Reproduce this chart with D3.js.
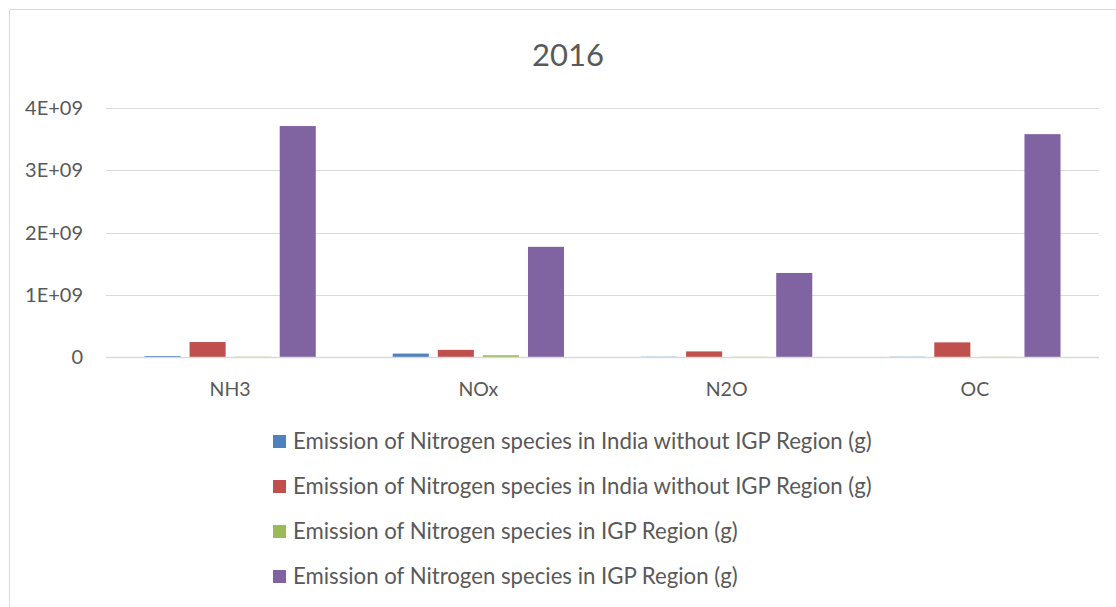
<!DOCTYPE html>
<html>
<head>
<meta charset="utf-8">
<script src="https://cdn.jsdelivr.net/npm/d3@7"></script>
<style>
  html, body { margin: 0; padding: 0; background: #fff; }
  svg { display: block; }
  text { font-family: Lato, "Open Sans", sans-serif; fill: #595959; }
</style>
</head>
<body>
<svg id="chart" width="1116" height="607"></svg>
<script>
// Emission data, 2016
const categories = ["NH3", "NOx", "N2O", "OC"];
const seriesNames = [
  "Emission of Nitrogen species in India without IGP Region (g)",
  "Emission of Nitrogen species in India without IGP Region (g)",
  "Emission of Nitrogen species in IGP Region (g)",
  "Emission of Nitrogen species in IGP Region (g)"
];
const seriesColors = ["#4f81bd", "#c0504d", "#9bbb59", "#8064a2"];
const seriesValues = [
  [0.015e9, 0.055e9, 0.004e9, 0.004e9],
  [0.24e9, 0.115e9, 0.09e9, 0.235e9],
  [0.004e9, 0.028e9, 0.003e9, 0.003e9],
  [3.71e9, 1.77e9, 1.35e9, 3.58e9]
];
const yTicks = [0, 1e9, 2e9, 3e9, 4e9];
const yTickLabels = ["0", "1E+09", "2E+09", "3E+09", "4E+09"];
const title = "2016";

const svg = d3.select("#chart");

// chart frame (left and top edges visible)
svg.append("path")
  .attr("d", "M9.5,607 V9.5 H1116")
  .attr("fill", "none")
  .attr("stroke", "#d9d9d9")
  .attr("stroke-width", 1);

const plot = { left: 106, right: 1099, top: 108, bottom: 357 };

const y = d3.scaleLinear().domain([0, 4e9]).range([plot.bottom, plot.top]);
const x0 = d3.scaleBand().domain(categories).range([plot.left, plot.right]);
const groupW = x0.bandwidth() * 0.69;
const x1 = d3.scaleBand().domain(d3.range(seriesNames.length))
  .range([0, groupW]).paddingInner(0.2).paddingOuter(0);

// gridlines
svg.append("g").selectAll("line")
  .data(yTicks.slice(1))
  .join("line")
  .attr("x1", plot.left).attr("x2", plot.right)
  .attr("y1", d => Math.round(y(d)) + 0.5)
  .attr("y2", d => Math.round(y(d)) + 0.5)
  .attr("stroke", "#d9d9d9").attr("stroke-width", 1);

// bars
const groups = svg.append("g").selectAll("g")
  .data(categories)
  .join("g")
  .attr("transform", (c) => `translate(${x0(c) + (x0.bandwidth() - groupW) / 2},0)`);

groups.selectAll("rect")
  .data((c, ci) => seriesValues.map((vals, si) => ({ si, v: vals[ci] })))
  .join("rect")
  .attr("x", d => x1(d.si))
  .attr("width", x1.bandwidth())
  .attr("y", d => y(d.v))
  .attr("height", d => y(0) - y(d.v))
  .attr("fill", d => seriesColors[d.si]);

// baseline axis
svg.append("line")
  .attr("x1", plot.left).attr("x2", plot.right)
  .attr("y1", Math.round(y(0)) + 0.5).attr("y2", Math.round(y(0)) + 0.5)
  .attr("stroke", "#d9d9d9").attr("stroke-width", 1.5);

// y tick labels
svg.append("g").selectAll("text")
  .data(yTicks)
  .join("text")
  .attr("x", 83)
  .attr("y", d => y(d))
  .attr("dy", "0.35em")
  .attr("text-anchor", "end")
  .attr("font-size", 20)
  .text((d, i) => yTickLabels[i]);

// category labels
svg.append("g").selectAll("text")
  .data(categories)
  .join("text")
  .attr("x", c => x0(c) + x0.bandwidth() / 2)
  .attr("y", 396)
  .attr("text-anchor", "middle")
  .attr("font-size", 19.5)
  .text(c => c);

// title
svg.append("text")
  .attr("x", 568).attr("y", 66)
  .attr("text-anchor", "middle")
  .attr("font-size", 31)
  .text(title);

// legend
const legend = svg.append("g").selectAll("g")
  .data(seriesNames)
  .join("g")
  .attr("transform", (d, i) => `translate(273,${441 + i * 45})`);

legend.append("rect")
  .attr("x", 0).attr("y", -6)
  .attr("width", 13).attr("height", 13)
  .attr("fill", (d, i) => seriesColors[i]);

const legendText = legend.append("text")
  .attr("x", 20).attr("y", 0)
  .attr("dy", "0.35em")
  .attr("font-size", 19)
  .text(d => d);

// size legend font so the longest entry spans its measured width
const first = legendText.node();
const w = first.getComputedTextLength();
const fs = 19 * 579 / w;
legendText.attr("font-size", fs);
</script>
</body>
</html>
